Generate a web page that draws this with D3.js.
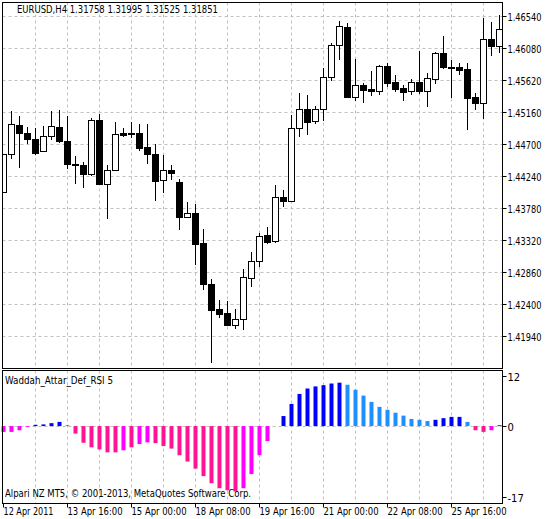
<!DOCTYPE html>
<html><head><meta charset="utf-8">
<script src="https://cdn.jsdelivr.net/npm/d3@7"></script>
<style>body{margin:0;background:#fff}text{font-family:"DejaVu Sans",sans-serif;font-size:10px;fill:#000}</style>
</head><body><svg id="c" width="551" height="519"></svg>
<script>
const opens=[1.4401,1.4456,1.4497,1.4486,1.4477,1.4460,1.4482,1.4494,1.4474,1.4441,1.4440,1.4427,1.4504,1.4412,1.4433,1.4486,1.4486,1.4486,1.4466,1.4456,1.4418,1.4433,1.4415,1.4365,1.4371,1.4328,1.4269,1.4233,1.4227,1.4210,1.4218,1.4277,1.4302,1.4339,1.4331,1.4394,1.4388,1.4493,1.4520,1.4503,1.4520,1.4566,1.4612,1.4638,1.4538,1.4555,1.4549,1.4546,1.4582,1.4559,1.4550,1.4546,1.4559,1.4546,1.4563,1.4601,1.4581,1.4581,1.4578,1.4538,1.4529,1.4621,1.4611];
const closes=[1.4456,1.4499,1.4486,1.4477,1.4457,1.4482,1.4496,1.4474,1.4441,1.4440,1.4427,1.4504,1.4412,1.4433,1.4484,1.4483,1.4484,1.4464,1.4456,1.4417,1.4433,1.4428,1.4365,1.4371,1.4326,1.4269,1.4231,1.4226,1.4210,1.4218,1.4279,1.4302,1.4338,1.4329,1.4394,1.4388,1.4493,1.4520,1.4502,1.4520,1.4566,1.4612,1.4640,1.4538,1.4555,1.4548,1.4546,1.4582,1.4558,1.4549,1.4545,1.4559,1.4546,1.4565,1.4601,1.4581,1.4579,1.4576,1.4536,1.4529,1.4621,1.4611,1.4635];
const highs=[1.4456,1.4517,1.4510,1.4494,1.4493,1.4496,1.4517,1.4519,1.4510,1.4453,1.4444,1.4507,1.4513,1.4440,1.4502,1.4493,1.4502,1.4499,1.4499,1.4470,1.4454,1.4440,1.4420,1.4387,1.4384,1.4348,1.4276,1.4246,1.4244,1.4233,1.4290,1.4315,1.4342,1.4351,1.4411,1.4404,1.4512,1.4543,1.4541,1.4525,1.4579,1.4615,1.4647,1.4644,1.4592,1.4558,1.4575,1.4584,1.4586,1.4569,1.4555,1.4563,1.4604,1.4572,1.4602,1.4625,1.4591,1.4586,1.4586,1.4543,1.4651,1.4645,1.4655];
const lows=[1.4401,1.4448,1.4436,1.4470,1.4454,1.4460,1.4476,1.4471,1.4434,1.4412,1.4407,1.4424,1.4411,1.4362,1.4433,1.4480,1.4479,1.4460,1.4441,1.4388,1.4400,1.4418,1.4346,1.4364,1.4296,1.4260,1.4155,1.4220,1.4210,1.4204,1.4203,1.4264,1.4293,1.4326,1.4328,1.4380,1.4388,1.4480,1.4483,1.4499,1.4503,1.4560,1.4591,1.4536,1.4532,1.4529,1.4539,1.4541,1.4552,1.4545,1.4532,1.4541,1.4542,1.4523,1.4556,1.4578,1.4536,1.4569,1.4490,1.4519,1.4506,1.4597,1.4601];
const osc=[-1.4,-1.4,-1.0,-0.2,0.3,0.4,0.7,1.0,0.2,-1.8,-4.0,-5.1,-5.6,-6.3,-6.3,-5.8,-5.1,-4.3,-3.9,-4.1,-4.8,-5.4,-7.0,-8.5,-10.2,-12.0,-13.7,-14.9,-15.4,-15.7,-14.9,-11.5,-7.0,-3.6,0,2.4,5.3,7.7,9.0,9.5,9.8,10.2,10.4,9.9,8.7,7.3,5.8,4.6,3.9,3.2,2.5,1.7,1.5,1.2,1.5,1.9,2.2,2.2,1.0,-1.0,-1.4,-1.0,0.2];
const oscColor=["M","M","M","M","B","B","B","B","L","P","P","P","P","P","P","M","P","M","M","P","P","P","P","P","P","P","P","P","P","P","M","M","M","M","B","B","B","B","B","B","B","B","B","L","L","L","L","L","L","L","L","L","L","L","B","B","B","B","L","P","P","M","B"];
const priceTicks=[1.46540,1.46080,1.45620,1.45160,1.44700,1.44240,1.43780,1.43320,1.42860,1.42400,1.41940];
const oscTicks=[12,0,-17];
const dateLabels=["12 Apr 2011","13 Apr 16:00","15 Apr 00:00","18 Apr 08:00","19 Apr 16:00","21 Apr 00:00","22 Apr 08:00","25 Apr 16:00"];
const title="EURUSD,H4  1.31758 1.31995 1.31525 1.31851";
const colMap={M:"#ff00ff",P:"#ff1493",B:"#0000ff",L:"#1e90ff"};

const svg=d3.select("#c");
const x=d3.scaleLinear().domain([0,62]).range([3,499]);
const y=d3.scaleLinear().domain([1.4654,1.4194]).range([16,336]);
const y2=d3.scaleLinear().domain([-17,12]).range([497,376]);
const L=2.5,R=502.5,T1=2.5,B1=368.5,T2=370.5,B2=503.5;
const g=svg.append("g");
const vIdx=d3.range(4,63,4);
g.selectAll(".vg").data(vIdx).join("line").attr("x1",d=>Math.round(x(d))+.5).attr("x2",d=>Math.round(x(d))+.5).attr("y1",T1).attr("y2",B1).attr("stroke","#c0c0c0").attr("stroke-dasharray","3,3");
g.selectAll(".vg2").data(vIdx).join("line").attr("x1",d=>Math.round(x(d))+.5).attr("x2",d=>Math.round(x(d))+.5).attr("y1",T2).attr("y2",B2).attr("stroke","#c0c0c0").attr("stroke-dasharray","3,3");
g.selectAll(".hg").data(priceTicks).join("line").attr("x1",L).attr("x2",R).attr("y1",d=>Math.round(y(d))+.5).attr("y2",d=>Math.round(y(d))+.5).attr("stroke","#c0c0c0").attr("stroke-dasharray","3,3");
g.append("line").attr("x1",L).attr("x2",R).attr("y1",Math.round(y2(0))+.5).attr("y2",Math.round(y2(0))+.5).attr("stroke","#c0c0c0").attr("stroke-dasharray","3,3");
const idx=d3.range(opens.length);
svg.append("clipPath").attr("id","clp").append("rect").attr("x",L).attr("y",T1).attr("width",R-L).attr("height",B1-T1);
const cg=svg.append("g").attr("clip-path","url(#clp)");
cg.selectAll(".w").data(idx).join("line").attr("x1",i=>Math.round(x(i))+.5).attr("x2",i=>Math.round(x(i))+.5).attr("y1",i=>Math.round(y(highs[i]))).attr("y2",i=>Math.round(y(lows[i]))).attr("stroke","#000");
cg.selectAll(".b").data(idx).join("rect")
 .attr("x",i=>Math.round(x(i))-2.5).attr("width",6)
 .attr("y",i=>Math.round(y(Math.max(opens[i],closes[i])))+.5)
 .attr("height",i=>Math.max(1,Math.round(y(Math.min(opens[i],closes[i])))-Math.round(y(Math.max(opens[i],closes[i])))))
 .attr("fill",i=>closes[i]>=opens[i]?"#fff":"#000").attr("stroke","#000");
svg.selectAll(".ob").data(idx.filter(i=>osc[i]!==0)).join("rect")
 .attr("x",i=>Math.round(x(i))-1.5).attr("width",4)
 .attr("y",i=>Math.min(y2(0),y2(osc[i]))).attr("height",i=>Math.abs(y2(osc[i])-y2(0)))
 .attr("fill",i=>colMap[oscColor[i]]);
svg.append("rect").attr("x",L).attr("y",T1).attr("width",R-L).attr("height",B1-T1).attr("fill","none").attr("stroke","#000");
svg.append("rect").attr("x",L).attr("y",T2).attr("width",R-L).attr("height",B2-T2).attr("fill","none").attr("stroke","#000");
const ax=svg.append("g");
priceTicks.forEach(p=>{const yy=Math.round(y(p))+.5;ax.append("line").attr("x1",R).attr("x2",R+4).attr("y1",yy).attr("y2",yy).attr("stroke","#000");ax.append("text").attr("x",R+5).attr("y",yy+4).attr("textLength",34).attr("lengthAdjust","spacingAndGlyphs").text(p.toFixed(5));});
oscTicks.forEach(v=>{const yy=Math.round(y2(v))+.5;ax.append("line").attr("x1",R).attr("x2",R+4).attr("y1",yy).attr("y2",yy).attr("stroke","#000");ax.append("text").attr("x",R+5).attr("y",yy+4).text(v);});
dateLabels.forEach((t,k)=>{const xx=Math.round(x(k*8))+.5;ax.append("line").attr("x1",xx).attr("x2",xx).attr("y1",B2).attr("y2",B2+4).attr("stroke","#000");ax.append("text").attr("x",xx).attr("y",515).attr("textLength",k==0?50:55).attr("lengthAdjust","spacingAndGlyphs").text(t);});
svg.append("text").attr("x",17).attr("y",13).attr("textLength",201).attr("lengthAdjust","spacingAndGlyphs").text(title);
svg.append("text").attr("x",5).attr("y",384).attr("textLength",108).attr("lengthAdjust","spacingAndGlyphs").text("Waddah_Attar_Def_RSI 5");
svg.append("text").attr("x",5).attr("y",497).attr("textLength",246).attr("lengthAdjust","spacingAndGlyphs").text("Alpari NZ MT5, © 2001-2013, MetaQuotes Software Corp.");
</script></body></html>
